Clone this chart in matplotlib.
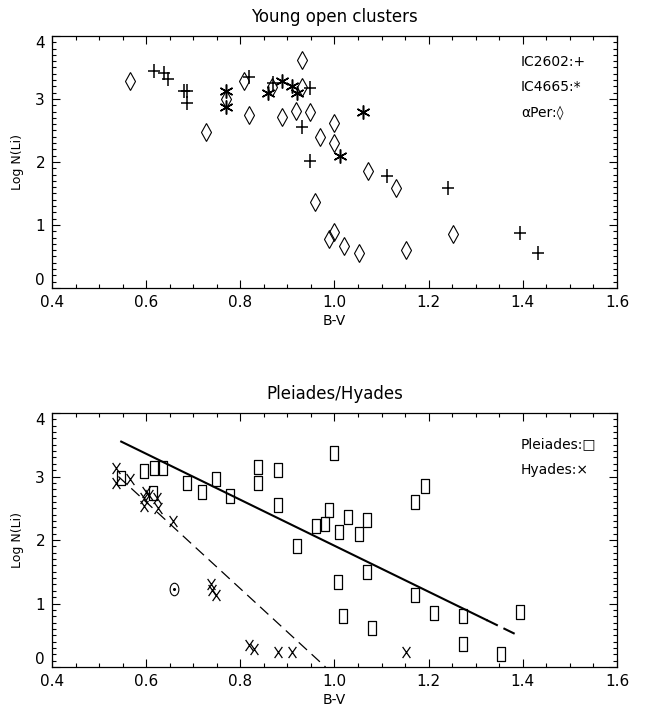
import numpy as np
import matplotlib
matplotlib.use("Agg")
import matplotlib.pyplot as plt
from matplotlib.path import Path
from matplotlib.ticker import MultipleLocator

# Young open clusters: B-V and Log N(Li)
ic2602_bv = [0.617, 0.638, 0.647, 0.680, 0.687, 0.687, 0.819, 0.869, 0.949, 0.930,
             0.949, 1.111, 1.242, 1.393, 1.433]
ic2602_li = [3.45, 3.41, 3.32, 3.12, 3.12, 2.93, 3.35, 3.25, 3.17, 2.56,
             2.02, 1.77, 1.58, 0.88, 0.55]

ic4665_bv = [0.769, 0.769, 0.859, 0.889, 0.909, 0.920, 1.060, 1.012]
ic4665_li = [3.12, 2.88, 3.09, 3.29, 3.21, 3.09, 2.80, 2.10]

aper_bv = [0.566, 0.727, 0.769, 0.808, 0.818, 0.868, 0.889, 0.919, 0.930, 0.930,
           0.949, 0.969, 0.999, 0.999, 0.959, 0.989, 0.999, 1.020, 1.051, 1.071,
           1.131, 1.152, 1.252]
aper_li = [3.29, 2.47, 3.00, 3.29, 2.74, 3.19, 2.72, 2.81, 3.62, 3.19,
           2.80, 2.39, 2.62, 2.30, 1.37, 0.78, 0.89, 0.67, 0.55, 1.85,
           1.58, 0.60, 0.86]

# Pleiades / Hyades
pleiades_bv = [0.546, 0.596, 0.617, 0.636, 0.615, 0.687, 0.718, 0.748, 0.778, 0.838,
               0.838, 0.879, 0.879, 0.920, 0.960, 0.980, 0.989, 1.000, 1.008, 1.010,
               1.029, 1.051, 1.070, 1.019, 1.070, 1.079, 1.171, 1.192, 1.171, 1.211,
               1.272, 1.272, 1.353, 1.393]
pleiades_li = [2.97, 3.09, 3.14, 3.14, 2.74, 2.90, 2.76, 2.96, 2.69, 3.15,
               2.90, 3.10, 2.55, 1.91, 2.22, 2.25, 2.48, 3.37, 1.34, 2.13,
               2.36, 2.10, 2.31, 0.80, 1.50, 0.61, 2.60, 2.85, 1.13, 0.85,
               0.80, 0.37, 0.20, 0.86]

hyades_bv = [0.536, 0.536, 0.566, 0.596, 0.596, 0.600, 0.607, 0.622, 0.626, 0.656,
             0.737, 0.739, 0.748, 0.819, 0.828, 0.879, 0.909, 1.152]
hyades_li = [3.14, 2.90, 2.96, 2.66, 2.54, 2.76, 2.71, 2.66, 2.50, 2.30,
             1.31, 1.21, 1.13, 0.35, 0.29, 0.24, 0.24, 0.24]

sun_bv = [0.659]
sun_li = [1.23]

# trend lines (end points)
pl_fit_bv = [0.547, 1.323]
pl_fit_li = [3.55, 0.74]
pl_ext_bv = [1.323, 1.392]
pl_ext_li = [0.74, 0.49]
hy_fit_bv = [0.541, 0.981]
hy_fit_li = [3.00, 0.0]

xtick_vals = [0.4, 0.6, 0.8, 1.0, 1.2, 1.4, 1.6]
xtick_labels = ['0.4', '0.6', '0.8', '1.0', '1.2', '1.4', '1.6']
ytick_vals = [0, 1, 2, 3, 4]

# custom IDL-like markers
rect = Path([(-0.3, -0.5), (0.3, -0.5), (0.3, 0.5), (-0.3, 0.5), (-0.3, -0.5)],
            [Path.MOVETO, Path.LINETO, Path.LINETO, Path.LINETO, Path.CLOSEPOLY])
cross = Path([(-0.35, -0.5), (0.35, 0.5), (-0.35, 0.5), (0.35, -0.5)],
             [Path.MOVETO, Path.LINETO, Path.MOVETO, Path.LINETO])
plus = Path([(-0.4, 0), (0.4, 0), (0, -0.5), (0, 0.5)],
            [Path.MOVETO, Path.LINETO, Path.MOVETO, Path.LINETO])
c = Path.unit_circle()
ellipse = Path(c.vertices * [0.7, 1.0], c.codes)

plt.rcParams['font.family'] = ['DejaVu Sans']
fig = plt.figure(figsize=(6.46, 7.27), dpi=100)
ax1 = fig.add_axes([0.0805, 0.6039, 0.8746, 0.3466])
ax2 = fig.add_axes([0.0805, 0.0825, 0.8746, 0.3494])

# --- top panel
ax1.plot(aper_bv, aper_li, ls='none', marker='d', ms=9, mfc='none', mec='black', mew=0.8)
ax1.plot(ic2602_bv, ic2602_li, ls='none', marker=plus, ms=10, mec='black', mew=1.1)
ax1.plot(ic4665_bv, ic4665_li, ls='none', marker=(6, 2, 0), ms=10, mec='black', mew=1.1)
ax1.text(0.83, 0.88, 'IC2602:+', transform=ax1.transAxes, fontsize=10)
ax1.text(0.83, 0.78, 'IC4665:*', transform=ax1.transAxes, fontsize=10)
ax1.text(0.83, 0.68, 'αPer:◊', transform=ax1.transAxes, fontsize=10)

# --- bottom panel
ax2.plot(pl_fit_bv, pl_fit_li, color='black', lw=1.5)
ax2.plot(pl_ext_bv, pl_ext_li, color='black', lw=1.5, dashes=(6, 3))
ax2.plot(hy_fit_bv, hy_fit_li, color='black', lw=0.9, dashes=(9, 5))
ax2.plot(pleiades_bv, pleiades_li, ls='none', marker=rect, ms=10, mfc='none',
         mec='black', mew=0.9)
ax2.plot(hyades_bv, hyades_li, ls='none', marker=cross, ms=8, mec='black', mew=0.9)
ax2.plot(sun_bv, sun_li, ls='none', marker=ellipse, ms=9, mfc='none', mec='black', mew=0.8)
ax2.plot(sun_bv, sun_li, ls='none', marker='o', ms=1.2, color='black')
ax2.text(0.83, 0.86, 'Pleiades:□', transform=ax2.transAxes, fontsize=10)
ax2.text(0.83, 0.76, 'Hyades:×', transform=ax2.transAxes, fontsize=10)

for ax, title in [(ax1, 'Young open clusters'), (ax2, 'Pleiades/Hyades')]:
    ax.set_xticks(xtick_vals)
    ax.set_xticklabels(xtick_labels)
    ax.set_yticks(ytick_vals)
    ax.set_yticklabels([str(v) for v in ytick_vals])
    ax.xaxis.set_minor_locator(MultipleLocator(0.05))
    ax.yaxis.set_minor_locator(MultipleLocator(0.1))
    ax.tick_params(which='both', direction='in', top=True, right=True,
                   width=0.8, labelsize=11)
    ax.tick_params(which='major', length=6, pad=5)
    ax.tick_params(which='minor', length=3)
    # IDL pulls the end labels inward
    ylabs = ax.get_yticklabels()
    ylabs[0].set_va('bottom')
    ylabs[-1].set_va('top')
    for s in ax.spines.values():
        s.set_linewidth(0.9)
    ax.set_title(title, fontsize=12, pad=10)
    ax.set_xlabel('B-V', fontsize=10, labelpad=3)
    ax.set_ylabel('Log N(Li)', fontsize=9, labelpad=8)
    ax.set_xlim(0.4, 1.6)
    ax.set_ylim(0, 4)

fig.savefig('out.png', dpi=100)
